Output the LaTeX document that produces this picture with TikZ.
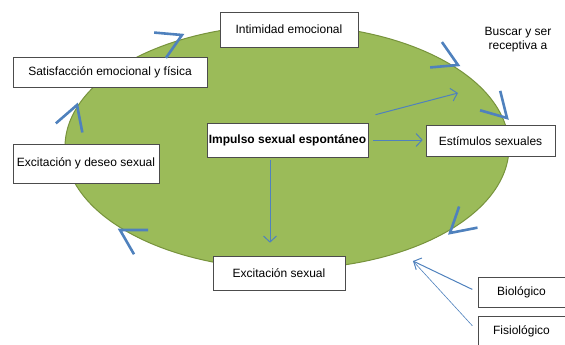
\documentclass[tikz,border=0pt]{standalone}
\usepackage{fontspec}
\setmainfont{Liberation Sans}
\usetikzlibrary{shapes.geometric, arrows.meta, positioning}
\definecolor{ovalgreen}{HTML}{9BBB59}
\definecolor{ovaledge}{HTML}{77933C}
\definecolor{arrowblue}{HTML}{4F81BD}
\tikzset{chev/.pic={\draw[cyc] (150:28) -- (0,0) -- (210:28);}}

\begin{document}
\begin{tikzpicture}[x=1pt, y=-1pt,
box/.style={draw=black!70, fill=white, line width=0.6pt, inner sep=2pt,
  font=\fontsize{12}{14}\selectfont},
cyc/.style={draw=arrowblue, line width=2.6pt},
link/.style={draw=arrowblue, line width=1pt, -{Straight Barb[length=6pt,width=13pt]}}
]
\useasboundingbox (0,0) rectangle (565,345);
\node[ellipse, draw=ovaledge, fill=ovalgreen, line width=1pt,
  minimum width=444, minimum height=244] (oval) at (287,147) {};

\node[box, minimum width=138, minimum height=35] (intimidad) at (289,29.5) {Intimidad emocional};
\node[box, minimum width=194, minimum height=30] (satisfaccion) at (110,72) {Satisfacción emocional y física};
\node[box, minimum width=146, minimum height=39] (deseo) at (86,163.5) {Excitación y deseo sexual};
\node[box, minimum width=161, minimum height=34, font=\fontsize{12}{14}\selectfont\bfseries] (impulso) at (287.5,140) {Impulso sexual espontáneo};
\node[box, minimum width=129, minimum height=31] (estimulos) at (490.5,141) {Estímulos sexuales};
\node[box, minimum width=132, minimum height=34] (excitacion) at (279,273) {Excitación sexual};
\node[box, minimum width=87, minimum height=30] (biologico) at (521.5,292) {Biológico};
\node[box, minimum width=87, minimum height=30, below=9pt of biologico] (fisiologico) {Fisiológico};
\node[font=\fontsize{12}{14}\selectfont, align=center] (buscar) at (518,40) {Buscar y ser\\receptiva a};

\coordinate (reach) at (458,93);
\coordinate (joint) at (413,261);

\pic[rotate=25] at (182,35) {chev};
\pic[rotate=-25] at (458,65) {chev};
\pic[rotate=-46] at (507,118) {chev};
\pic[rotate=221] at (450,233) {chev};
\pic[rotate=150] at (120,230) {chev};
\pic[rotate=71] at (77,105) {chev};

\draw[link, shorten <=5, shorten >=3] (impulso.east) -- (impulso.east -| estimulos.west);
\draw[link] ([shift={(7,-8)}]impulso.north east) -- (reach);
\draw[link, shorten <=3, shorten >=13] ([xshift=-17.5pt]impulso.south) -- ([xshift=-9pt]excitacion.north);
\draw[link, shorten <=6] (biologico.west) -- (joint);
\draw[arrowblue, line width=0.6pt, shorten <=8] (fisiologico.west) -- (joint);
\end{tikzpicture}
\end{document}
